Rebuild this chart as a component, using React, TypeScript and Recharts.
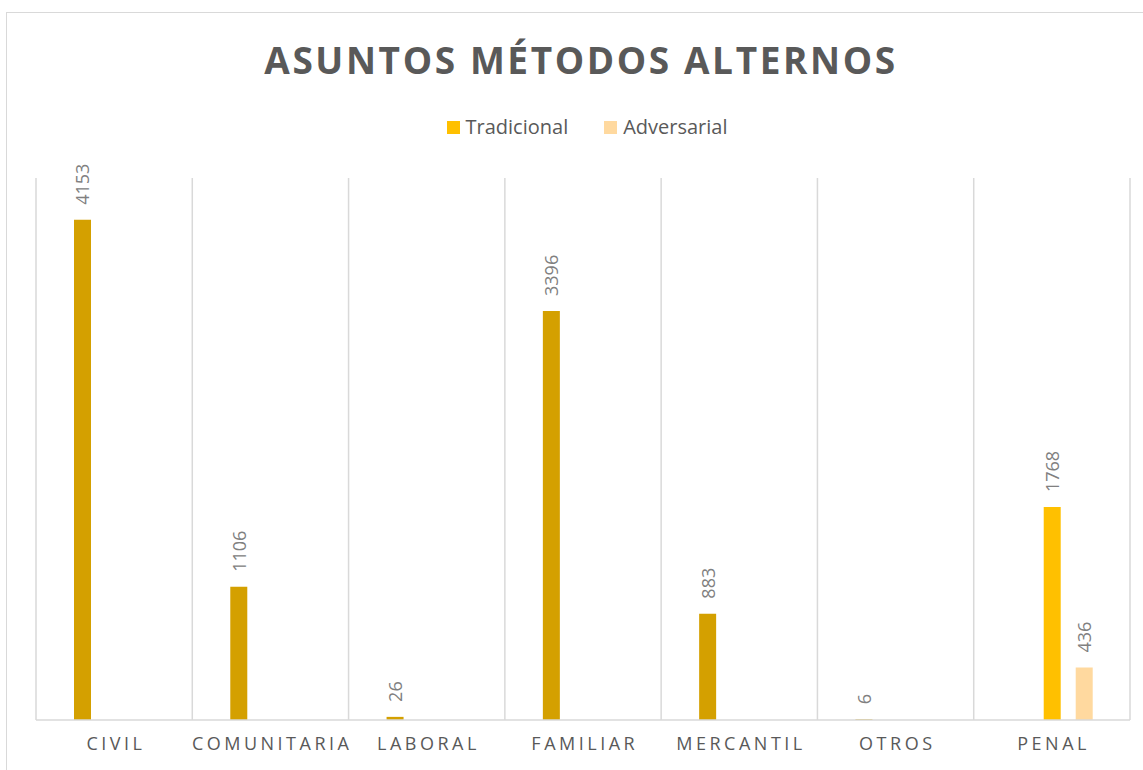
import { BarChart, Bar, XAxis, YAxis, CartesianGrid, LabelList } from "recharts"

const categorias = ["CIVIL", "COMUNITARIA", "LABORAL", "FAMILIAR", "MERCANTIL", "OTROS", "PENAL"]
const general = [4153, 1106, 26, 3396, 883, 6, null]
const tradicional = [null, null, null, null, null, null, 1768]
const adversarial = [null, null, null, null, null, null, 436]

const data = categorias.map((cat, i) => ({
  cat,
  general: general[i],
  tradicional: tradicional[i],
  adversarial: adversarial[i],
}))

const FONT = "'Open Sans', 'Noto Sans', sans-serif"
const GRID = "#d9d9d9"

const ValueLabel = (props: any) => {
  const { x, y, width, value } = props
  if (value == null) return null
  const cx = x + width / 2
  const top = y - 15
  return (
    <text
      x={cx}
      y={top}
      transform={`rotate(-90 ${cx} ${top})`}
      textAnchor="start"
      dominantBaseline="central"
      fill="#808080"
      fontSize={18}
      fontFamily={FONT}
    >
      {value}
    </text>
  )
}

const CatTick = (props: any) => {
  const { x, y, payload } = props
  return (
    <text x={x + 1.75} y={y} dy={22} textAnchor="middle" fill="#595959" fontSize={18} fontFamily={FONT} letterSpacing={3.5}>
      {payload.value}
    </text>
  )
}

export default function App() {
  return (
    <div style={{ position: "absolute", left: 0, top: 0, width: 1143, height: 770, overflow: "hidden", background: "#fff" }}>
      <div
        style={{
          position: "absolute",
          left: 6,
          top: 12,
          width: 1170,
          height: 800,
          border: "1.5px solid #d9d9d9",
        }}
      />
      <div
        style={{
          position: "absolute",
          left: 0,
          top: 35,
          width: 1162,
          textAlign: "center",
          fontFamily: FONT,
          fontWeight: 700,
          fontSize: 37,
          letterSpacing: 2.6,
          color: "#595959",
          lineHeight: "50px",
        }}
      >
        ASUNTOS MÉTODOS ALTERNOS
      </div>
      <div
        style={{
          position: "absolute",
          left: 0,
          top: 113,
          width: 1174,
          display: "flex",
          justifyContent: "center",
          gap: 36,
          fontFamily: FONT,
          fontSize: 20,
          color: "#595959",
          lineHeight: "28px",
        }}
      >
        <span style={{ display: "flex", alignItems: "center" }}>
          <span style={{ width: 13, height: 13, background: "#FFC000", marginRight: 6 }} />
          Tradicional
        </span>
        <span style={{ display: "flex", alignItems: "center" }}>
          <span style={{ width: 13, height: 13, background: "#FFD99F", marginRight: 6 }} />
          Adversarial
        </span>
      </div>
      <div style={{ position: "absolute", left: 0, top: 0 }}>
        <BarChart
          width={1143}
          height={770}
          data={data}
          margin={{ top: 178, right: 13, bottom: 0, left: 36 }}
          barSize={17}
          barGap={15}
        >
          <CartesianGrid
            horizontal={false}
            stroke={GRID}
            strokeWidth={1.5}
            verticalCoordinatesGenerator={({ offset }: any) =>
              Array.from({ length: categorias.length + 1 }, (_, i) => offset.left + (i * offset.width) / categorias.length)
            }
          />
          <XAxis
            dataKey="cat"
            height={50}
            tickLine={false}
            axisLine={{ stroke: GRID, strokeWidth: 1.5 }}
            tick={<CatTick />}
            interval={0}
          />
          <YAxis hide domain={[0, 4500]} />
          <Bar dataKey="general" name="General" fill="#D4A000" legendType="none" isAnimationActive={false}>
            <LabelList dataKey="general" content={<ValueLabel />} />
          </Bar>
          <Bar dataKey="tradicional" name="Tradicional" fill="#FFC000" isAnimationActive={false}>
            <LabelList dataKey="tradicional" content={<ValueLabel />} />
          </Bar>
          <Bar dataKey="adversarial" name="Adversarial" fill="#FFD99F" isAnimationActive={false}>
            <LabelList dataKey="adversarial" content={<ValueLabel />} />
          </Bar>
        </BarChart>
      </div>
    </div>
  )
}
